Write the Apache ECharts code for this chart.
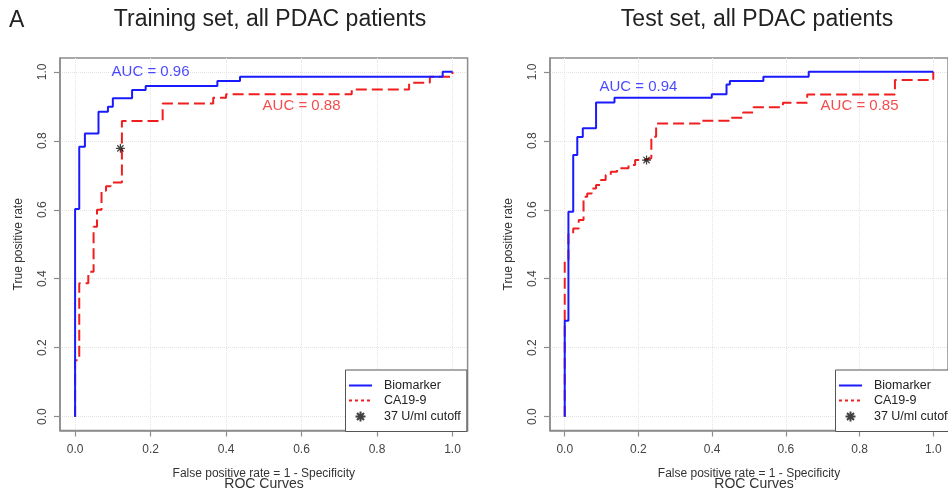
<!DOCTYPE html>
<html>
<head>
<meta charset="utf-8">
<title>ROC curves, PDAC</title>
<script src="https://cdn.jsdelivr.net/npm/echarts@6/dist/echarts.min.js"></script>
<style>
  html, body { margin: 0; padding: 0; background: #fff; }
  #main { width: 948px; height: 492px; }
</style>
</head>
<body>
<div id="main"></div>
<script>
// tick labels on both axes
var ticks = [0, 0.2, 0.4, 0.6, 0.8, 1.0];

// training set, step points (fpr, tpr)
var trainBioFpr = [0, 0, 0.011, 0.026, 0.062, 0.087, 0.100, 0.151, 0.187, 0.377, 0.437, 0.974, 1.0];
var trainBioTpr = [0, 0.602, 0.783, 0.821, 0.884, 0.899, 0.923, 0.947, 0.959, 0.973, 0.986, 1.0, 1.0];
var trainCaFpr = [0, 0, 0.011, 0.035, 0.049, 0.058, 0.070, 0.082, 0.094, 0.124, 0.232, 0.366, 0.400, 0.733, 0.885, 0.940, 1.0];
var trainCaTpr = [0, 0.164, 0.387, 0.420, 0.551, 0.600, 0.655, 0.668, 0.679, 0.857, 0.908, 0.925, 0.935, 0.949, 0.968, 0.986, 1.0];
var trainCutoff = [0.12, 0.778];

// test set
var testBioFpr = [0, 0, 0.010, 0.023, 0.034, 0.049, 0.085, 0.135, 0.399, 0.439, 0.448, 0.539, 0.662, 1.0];
var testBioTpr = [0, 0.278, 0.594, 0.759, 0.811, 0.836, 0.911, 0.925, 0.935, 0.963, 0.973, 0.986, 1.0, 1.0];
var testCaFpr = [0, 0, 0.010, 0.023, 0.038, 0.051, 0.061, 0.073, 0.085, 0.098, 0.111, 0.125, 0.142, 0.173, 0.191, 0.213, 0.235, 0.248, 0.366, 0.446, 0.484, 0.512, 0.592, 0.658, 0.896, 1.0];
var testCaTpr = [0, 0.455, 0.532, 0.546, 0.570, 0.638, 0.647, 0.662, 0.672, 0.686, 0.701, 0.710, 0.720, 0.730, 0.744, 0.749, 0.812, 0.850, 0.858, 0.867, 0.882, 0.897, 0.910, 0.934, 0.976, 1.0];
var testCutoff = [0.222, 0.744];

// AUC labels: [x, y, text]
var trainAuc = [[0.2, 1.0, 'AUC = 0.96'], [0.6, 0.9, 'AUC = 0.88']];
var testAuc = [[0.2, 0.955, 'AUC = 0.94'], [0.8, 0.9, 'AUC = 0.85']];

var panelTitles = ['Training set, all PDAC patients', 'Test set, all PDAC patients'];
var legendNames = ['Biomarker', 'CA19-9', '37 U/ml cutoff'];

var FONT = 'Liberation Sans, Arial, sans-serif';
var BLUE = '#1a1aff', RED = '#f01e1e', BOX = '#8c8c8c';
var STAR = 'path://M0,-1L0,1M-1,0L1,0M-0.7,-0.7L0.7,0.7M-0.7,0.7L0.7,-0.7';

function pairs(xs, ys) {
  var out = [];
  for (var i = 0; i < xs.length; i++) out.push([xs[i], ys[i]]);
  return out;
}

function xAxisFor(idx) {
  return {
    type: 'value', gridIndex: idx, min: -0.04, max: 1.04,
    name: 'False positive rate = 1 - Specificity', nameLocation: 'middle', nameGap: 37,
    nameTextStyle: { fontFamily: FONT, fontSize: 12, color: '#333' },
    axisLine: { show: true, onZero: false, lineStyle: { color: BOX, width: 1.5 } },
    axisTick: { show: true, customValues: ticks, length: 6, lineStyle: { color: BOX, width: 1.2 } },
    axisLabel: { customValues: ticks, formatter: function (v) { return v.toFixed(1); },
      fontFamily: FONT, fontSize: 12, color: '#444', margin: 13 },
    splitLine: { show: true, lineStyle: { color: '#e4e4e4', type: 'dotted', width: 1 } }
  };
}
function yAxisFor(idx) {
  return {
    type: 'value', gridIndex: idx, min: -0.04, max: 1.04,
    name: 'True positive rate', nameLocation: 'middle', nameGap: 35,
    nameTextStyle: { fontFamily: FONT, fontSize: 12, color: '#333' },
    axisLine: { show: true, onZero: false, lineStyle: { color: BOX, width: 1.5 } },
    axisTick: { show: true, customValues: ticks, length: 6, lineStyle: { color: BOX, width: 1.2 } },
    axisLabel: { customValues: ticks, rotate: 90, formatter: function (v) { return v.toFixed(1); },
      fontFamily: FONT, fontSize: 12, color: '#444', margin: 11 },
    splitLine: { show: true, lineStyle: { color: '#e4e4e4', type: 'dotted', width: 1 } }
  };
}

function panelSeries(idx, bioF, bioT, caF, caT, cut, auc) {
  return [
    { name: 'Biomarker', type: 'line', xAxisIndex: idx, yAxisIndex: idx, step: 'end',
      symbol: 'none', data: pairs(bioF, bioT), z: 4,
      lineStyle: { color: BLUE, width: 2 }, itemStyle: { color: BLUE } },
    { name: 'CA19-9', type: 'line', xAxisIndex: idx, yAxisIndex: idx, step: 'end',
      symbol: 'none', data: pairs(caF, caT), z: 3,
      lineStyle: { color: RED, width: 2, type: [11, 5] }, itemStyle: { color: RED } },
    { name: '37 U/ml cutoff', type: 'scatter', xAxisIndex: idx, yAxisIndex: idx,
      symbol: STAR, symbolSize: 9, data: [cut], z: 5,
      itemStyle: { color: 'none', borderColor: '#111', borderWidth: 1.2 } },
    { type: 'scatter', xAxisIndex: idx, yAxisIndex: idx, symbolSize: 1, silent: true,
      data: [auc[0]], itemStyle: { color: 'rgba(0,0,0,0)' },
      label: { show: true, position: 'inside', formatter: function (p) { return p.data[2]; },
        fontFamily: FONT, fontSize: 15, color: BLUE } },
    { type: 'scatter', xAxisIndex: idx, yAxisIndex: idx, symbolSize: 1, silent: true,
      data: [auc[1]], itemStyle: { color: 'rgba(0,0,0,0)' },
      label: { show: true, position: 'inside', formatter: function (p) { return p.data[2]; },
        fontFamily: FONT, fontSize: 15, color: RED } }
  ];
}

function legendAt(left) {
  return {
    left: left, top: 370, orient: 'vertical', selectedMode: false,
    itemWidth: 23, itemHeight: 10, itemGap: 2,
    padding: [9, 6, 7.5, 2.5],
    backgroundColor: '#fff', borderColor: '#555', borderWidth: 1,
    textStyle: { fontFamily: FONT, fontSize: 12.5, color: '#222', lineHeight: 12 },
    formatter: function (n) { return '  ' + n; },
    data: [
      { name: legendNames[0], itemStyle: { opacity: 0 } },
      { name: legendNames[1], itemStyle: { opacity: 0 }, lineStyle: { type: [3, 3], width: 2 } },
      { name: legendNames[2] }
    ]
  };
}

var chart = echarts.init(document.getElementById('main'), null, { renderer: 'canvas' });
chart.setOption({
  animation: false,
  backgroundColor: '#fff',
  title: [
    { text: 'A', left: 9, top: 9, padding: 0, textStyle: { fontFamily: FONT, fontSize: 23, fontWeight: 'normal', color: '#222' } },
    { text: panelTitles[0], left: 270, top: 8, padding: 0, textAlign: 'center', textStyle: { fontFamily: FONT, fontSize: 23, fontWeight: 'normal', color: '#222' } },
    { text: panelTitles[1], left: 757, top: 8, padding: 0, textAlign: 'center', textStyle: { fontFamily: FONT, fontSize: 23, fontWeight: 'normal', color: '#222' } },
    { text: 'ROC Curves', left: 264, top: 477, padding: 0, textAlign: 'center', textStyle: { fontFamily: FONT, fontSize: 14, fontWeight: 'normal', color: '#333' } },
    { text: 'ROC Curves', left: 754, top: 477, padding: 0, textAlign: 'center', textStyle: { fontFamily: FONT, fontSize: 14, fontWeight: 'normal', color: '#333' } }
  ],
  grid: [
    { left: 60, top: 58, width: 407.6, height: 372.5, show: true, borderColor: BOX, borderWidth: 1.5, backgroundColor: 'transparent' },
    { left: 550, top: 58, width: 407.6, height: 372.5, show: true, borderColor: BOX, borderWidth: 1.5, backgroundColor: 'transparent' }
  ],
  xAxis: [xAxisFor(0), xAxisFor(1)],
  yAxis: [yAxisFor(0), yAxisFor(1)],
  legend: [legendAt(345.5), legendAt(835.5)],
  series: panelSeries(0, trainBioFpr, trainBioTpr, trainCaFpr, trainCaTpr, trainCutoff, trainAuc)
    .concat(panelSeries(1, testBioFpr, testBioTpr, testCaFpr, testCaTpr, testCutoff, testAuc))
});
</script>
</body>
</html>
